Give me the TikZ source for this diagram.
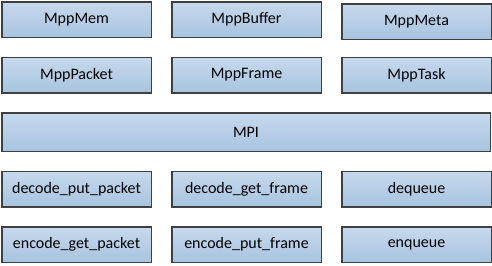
\documentclass[tikz,border=0pt]{standalone}
\usepackage{fontspec}
\setmainfont{Carlito}
\usetikzlibrary{positioning}
\definecolor{boxtop}{RGB}{199,217,236}
\definecolor{boxbot}{RGB}{167,196,224}
\definecolor{boxline}{RGB}{64,64,64}

\begin{document}
\begin{tikzpicture}[
  x=1pt, y=1pt,
  every node/.style={font=\fontsize{16}{19}\selectfont},
  blk/.style    = {draw=boxline, line width=1.5pt, top color=boxtop, bottom color=boxbot,
                   minimum width=149.5pt, minimum height=35.5pt, inner sep=0pt},
  wideblk/.style = {blk, minimum width=488.5pt, minimum height=38.5pt},
]
  \useasboundingbox (0,0) rectangle (492,-265);
  % Top rows: Mpp objects.
  \node[blk, anchor=north west] (mem) at (1,-1) {MppMem};
  \node[blk, right=19pt of mem]                 (buffer) {MppBuffer};
  \node[blk, right=19pt of buffer, yshift=-2pt] (meta)   {MppMeta};
  \node[blk, below=18.5pt of mem]    (packet) {MppPacket};
  \node[blk, below=18.5pt of buffer] (frame)  {MppFrame};
  \node[blk, below=18.5pt of meta, yshift=2pt] (task) {MppTask};
  % Interface layer spanning the full width.
  \node[wideblk, below=18.5pt of packet.south west, anchor=north west] (mpi) {MPI};
  % Bottom rows: API calls.
  \node[blk, below=18.5pt of mpi.south west, anchor=north west] (decput) {decode\_put\_packet};
  \node[blk, right=19pt of decput] (decget) {decode\_get\_frame};
  \node[blk, right=19pt of decget] (deq)    {dequeue};
  \node[blk, below=18.5pt of decput] (encget) {encode\_get\_packet};
  \node[blk, below=18.5pt of decget] (encput) {encode\_put\_frame};
  \node[blk, below=18.5pt of deq]    (enq)    {enqueue};
\end{tikzpicture}
\end{document}
